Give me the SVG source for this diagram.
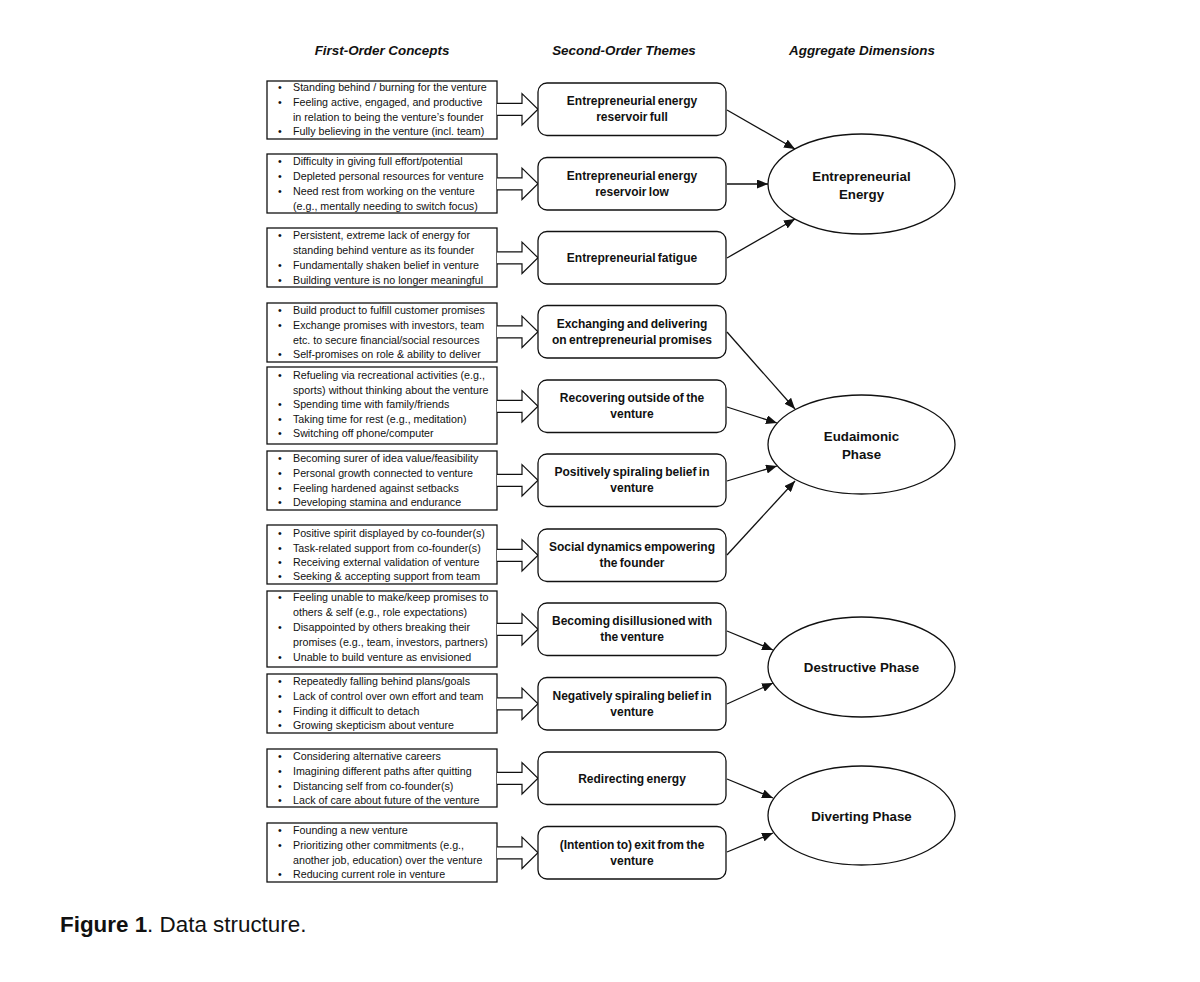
<svg xmlns="http://www.w3.org/2000/svg" width="1200" height="982" viewBox="0 0 1200 982">
<style>
text{font-family:"Liberation Sans",Arial,sans-serif;fill:#111}
.hd{font-size:13.4px;font-weight:bold;font-style:italic;text-anchor:middle}
.lt{font-size:10.7px}
.mt{font-size:12px;font-weight:bold;text-anchor:middle;word-spacing:-1px}
.et{font-size:13.3px;font-weight:bold;text-anchor:middle}
.box{fill:#fff;stroke:#111;stroke-width:1.3}
.rbox{fill:#fff;stroke:#111;stroke-width:1.3}
.harr{fill:#fff;stroke:#111;stroke-width:1.2;stroke-linejoin:miter}
.ell{fill:#fff;stroke:#111;stroke-width:1.3}
.con line{stroke:#111;stroke-width:1.3;marker-end:url(#ah)}
</style>
<defs>
<marker id="ah" markerUnits="userSpaceOnUse" markerWidth="11" markerHeight="9" refX="11" refY="4.5" orient="auto"><path d="M0,0 L11,4.5 L0,9 z" fill="#111"/></marker>
</defs>
<rect width="1200" height="982" fill="#fff"/>
<g id="headers">
<text class="hd" x="382" y="55">First-Order Concepts</text>
<text class="hd" x="624" y="55">Second-Order Themes</text>
<text class="hd" x="862" y="55">Aggregate Dimensions</text>
</g>
<g id="fo1"><rect class="box" x="267" y="81" width="230" height="58"/>
<text class="lt"><tspan x="278" y="91">•</tspan><tspan x="293" y="91">Standing behind / burning for the venture</tspan><tspan x="278" y="106">•</tspan><tspan x="293" y="106">Feeling active, engaged, and productive</tspan><tspan x="293" y="121">in relation to being the venture’s founder</tspan><tspan x="278" y="135">•</tspan><tspan x="293" y="135">Fully believing in the venture (incl. team)</tspan></text></g>
<g id="fo2"><rect class="box" x="267" y="154" width="230" height="59"/>
<text class="lt"><tspan x="278" y="165">•</tspan><tspan x="293" y="165">Difficulty in giving full effort/potential</tspan><tspan x="278" y="180">•</tspan><tspan x="293" y="180">Depleted personal resources for venture</tspan><tspan x="278" y="195">•</tspan><tspan x="293" y="195">Need rest from working on the venture</tspan><tspan x="293" y="210">(e.g., mentally needing to switch focus)</tspan></text></g>
<g id="fo3"><rect class="box" x="267" y="228" width="230" height="59"/>
<text class="lt"><tspan x="278" y="239">•</tspan><tspan x="293" y="239">Persistent, extreme lack of energy for</tspan><tspan x="293" y="254">standing behind venture as its founder</tspan><tspan x="278" y="269">•</tspan><tspan x="293" y="269">Fundamentally shaken belief in venture</tspan><tspan x="278" y="284">•</tspan><tspan x="293" y="284">Building venture is no longer meaningful</tspan></text></g>
<g id="fo4"><rect class="box" x="267" y="303" width="230" height="59"/>
<text class="lt"><tspan x="278" y="314">•</tspan><tspan x="293" y="314">Build product to fulfill customer promises</tspan><tspan x="278" y="329">•</tspan><tspan x="293" y="329">Exchange promises with investors, team</tspan><tspan x="293" y="344">etc. to secure financial/social resources</tspan><tspan x="278" y="358">•</tspan><tspan x="293" y="358">Self-promises on role &amp; ability to deliver</tspan></text></g>
<g id="fo5"><rect class="box" x="267" y="367" width="230" height="77"/>
<text class="lt"><tspan x="278" y="379">•</tspan><tspan x="293" y="379">Refueling via recreational activities (e.g.,</tspan><tspan x="293" y="394">sports) without thinking about the venture</tspan><tspan x="278" y="408">•</tspan><tspan x="293" y="408">Spending time with family/friends</tspan><tspan x="278" y="423">•</tspan><tspan x="293" y="423">Taking time for rest (e.g., meditation)</tspan><tspan x="278" y="437">•</tspan><tspan x="293" y="437">Switching off phone/computer</tspan></text></g>
<g id="fo6"><rect class="box" x="267" y="451" width="230" height="59"/>
<text class="lt"><tspan x="278" y="462">•</tspan><tspan x="293" y="462">Becoming surer of idea value/feasibility</tspan><tspan x="278" y="477">•</tspan><tspan x="293" y="477">Personal growth connected to venture</tspan><tspan x="278" y="492">•</tspan><tspan x="293" y="492">Feeling hardened against setbacks</tspan><tspan x="278" y="506">•</tspan><tspan x="293" y="506">Developing stamina and endurance</tspan></text></g>
<g id="fo7"><rect class="box" x="267" y="525" width="230" height="59"/>
<text class="lt"><tspan x="278" y="537">•</tspan><tspan x="293" y="537">Positive spirit displayed by co-founder(s)</tspan><tspan x="278" y="552">•</tspan><tspan x="293" y="552">Task-related support from co-founder(s)</tspan><tspan x="278" y="566">•</tspan><tspan x="293" y="566">Receiving external validation of venture</tspan><tspan x="278" y="580">•</tspan><tspan x="293" y="580">Seeking &amp; accepting support from team</tspan></text></g>
<g id="fo8"><rect class="box" x="267" y="591" width="230" height="76"/>
<text class="lt"><tspan x="278" y="601">•</tspan><tspan x="293" y="601">Feeling unable to make/keep promises to</tspan><tspan x="293" y="616">others &amp; self (e.g., role expectations)</tspan><tspan x="278" y="631">•</tspan><tspan x="293" y="631">Disappointed by others breaking their</tspan><tspan x="293" y="646">promises (e.g., team, investors, partners)</tspan><tspan x="278" y="661">•</tspan><tspan x="293" y="661">Unable to build venture as envisioned</tspan></text></g>
<g id="fo9"><rect class="box" x="267" y="674" width="230" height="59"/>
<text class="lt"><tspan x="278" y="685">•</tspan><tspan x="293" y="685">Repeatedly falling behind plans/goals</tspan><tspan x="278" y="700">•</tspan><tspan x="293" y="700">Lack of control over own effort and team</tspan><tspan x="278" y="715">•</tspan><tspan x="293" y="715">Finding it difficult to detach</tspan><tspan x="278" y="729">•</tspan><tspan x="293" y="729">Growing skepticism about venture</tspan></text></g>
<g id="fo10"><rect class="box" x="267" y="749" width="230" height="58"/>
<text class="lt"><tspan x="278" y="760">•</tspan><tspan x="293" y="760">Considering alternative careers</tspan><tspan x="278" y="775">•</tspan><tspan x="293" y="775">Imagining different paths after quitting</tspan><tspan x="278" y="790">•</tspan><tspan x="293" y="790">Distancing self from co-founder(s)</tspan><tspan x="278" y="804">•</tspan><tspan x="293" y="804">Lack of care about future of the venture</tspan></text></g>
<g id="fo11"><rect class="box" x="267" y="823" width="230" height="59"/>
<text class="lt"><tspan x="278" y="834">•</tspan><tspan x="293" y="834">Founding a new venture</tspan><tspan x="278" y="849">•</tspan><tspan x="293" y="849">Prioritizing other commitments (e.g.,</tspan><tspan x="293" y="864">another job, education) over the venture</tspan><tspan x="278" y="878">•</tspan><tspan x="293" y="878">Reducing current role in venture</tspan></text></g>
<g id="hollow-arrows">
<path class="harr" d="M497,103.3 H522 V93.6 L538,109.3 L522,125 V115.3 H497"/>
<path class="harr" d="M497,177.8 H522 V168.1 L538,183.8 L522,199.5 V189.8 H497"/>
<path class="harr" d="M497,251.8 H522 V242.1 L538,257.8 L522,273.5 V263.8 H497"/>
<path class="harr" d="M497,325.8 H522 V316.1 L538,331.8 L522,347.5 V337.8 H497"/>
<path class="harr" d="M497,400.3 H522 V390.6 L538,406.3 L522,422 V412.3 H497"/>
<path class="harr" d="M497,474.3 H522 V464.6 L538,480.3 L522,496 V486.3 H497"/>
<path class="harr" d="M497,549.3 H522 V539.6 L538,555.3 L522,571 V561.3 H497"/>
<path class="harr" d="M497,623.3 H522 V613.6 L538,629.3 L522,645 V635.3 H497"/>
<path class="harr" d="M497,697.8 H522 V688.1 L538,703.8 L522,719.5 V709.8 H497"/>
<path class="harr" d="M497,772.3 H522 V762.6 L538,778.3 L522,794 V784.3 H497"/>
<path class="harr" d="M497,846.8 H522 V837.1 L538,852.8 L522,868.5 V858.8 H497"/>
</g>
<g id="so1"><rect class="rbox" x="538" y="83" width="188" height="52.5" rx="9"/><text class="mt" x="632" y="105.3">Entrepreneurial energy</text><text class="mt" x="632" y="121.3">reservoir full</text></g>
<g id="so2"><rect class="rbox" x="538" y="157.5" width="188" height="52.5" rx="9"/><text class="mt" x="632" y="179.8">Entrepreneurial energy</text><text class="mt" x="632" y="195.8">reservoir low</text></g>
<g id="so3"><rect class="rbox" x="538" y="231.5" width="188" height="52.5" rx="9"/><text class="mt" x="632" y="262.3">Entrepreneurial fatigue</text></g>
<g id="so4"><rect class="rbox" x="538" y="305.5" width="188" height="52.5" rx="9"/><text class="mt" x="632" y="327.8">Exchanging and delivering</text><text class="mt" x="632" y="343.8">on entrepreneurial promises</text></g>
<g id="so5"><rect class="rbox" x="538" y="380" width="188" height="52.5" rx="9"/><text class="mt" x="632" y="402.3">Recovering outside of the</text><text class="mt" x="632" y="418.3">venture</text></g>
<g id="so6"><rect class="rbox" x="538" y="454" width="188" height="52.5" rx="9"/><text class="mt" x="632" y="476.3">Positively spiraling belief in</text><text class="mt" x="632" y="492.3">venture</text></g>
<g id="so7"><rect class="rbox" x="538" y="529" width="188" height="52.5" rx="9"/><text class="mt" x="632" y="551.3">Social dynamics empowering</text><text class="mt" x="632" y="567.3">the founder</text></g>
<g id="so8"><rect class="rbox" x="538" y="603" width="188" height="52.5" rx="9"/><text class="mt" x="632" y="625.3">Becoming disillusioned with</text><text class="mt" x="632" y="641.3">the venture</text></g>
<g id="so9"><rect class="rbox" x="538" y="677.5" width="188" height="52.5" rx="9"/><text class="mt" x="632" y="699.8">Negatively spiraling belief in</text><text class="mt" x="632" y="715.8">venture</text></g>
<g id="so10"><rect class="rbox" x="538" y="752" width="188" height="52.5" rx="9"/><text class="mt" x="632" y="782.8">Redirecting energy</text></g>
<g id="so11"><rect class="rbox" x="538" y="826.5" width="188" height="52.5" rx="9"/><text class="mt" x="632" y="848.8">(Intention to) exit from the</text><text class="mt" x="632" y="864.8">venture</text></g>
<g id="connectors" class="con">
<line x1="727" y1="110" x2="795" y2="149"/>
<line x1="727" y1="184" x2="768" y2="184"/>
<line x1="727" y1="258" x2="795" y2="219"/>
<line x1="727" y1="332" x2="795" y2="409"/>
<line x1="727" y1="407" x2="777" y2="423"/>
<line x1="727" y1="481" x2="777" y2="466"/>
<line x1="727" y1="555" x2="795" y2="481"/>
<line x1="727" y1="631" x2="773" y2="650"/>
<line x1="727" y1="704" x2="773" y2="683"/>
<line x1="727" y1="779" x2="773" y2="798"/>
<line x1="727" y1="852" x2="773" y2="833"/>
</g>
<g id="ad1"><ellipse class="ell" cx="861.5" cy="184" rx="93.5" ry="50"/><text class="et" x="861.5" y="180.5">Entrepreneurial</text><text class="et" x="861.5" y="199">Energy</text></g>
<g id="ad2"><ellipse class="ell" cx="861.5" cy="444.5" rx="93.5" ry="49.5"/><text class="et" x="861.5" y="440.5">Eudaimonic</text><text class="et" x="861.5" y="459">Phase</text></g>
<g id="ad3"><ellipse class="ell" cx="861.5" cy="667" rx="93.5" ry="50"/><text class="et" x="861.5" y="672">Destructive Phase</text></g>
<g id="ad4"><ellipse class="ell" cx="861.5" cy="815.5" rx="93.5" ry="49.5"/><text class="et" x="861.5" y="820.5">Diverting Phase</text></g>
<g id="caption"><text x="60" y="932" style="font-size:22.4px"><tspan font-weight="bold">Figure 1</tspan>. Data structure.</text></g>
</svg>
